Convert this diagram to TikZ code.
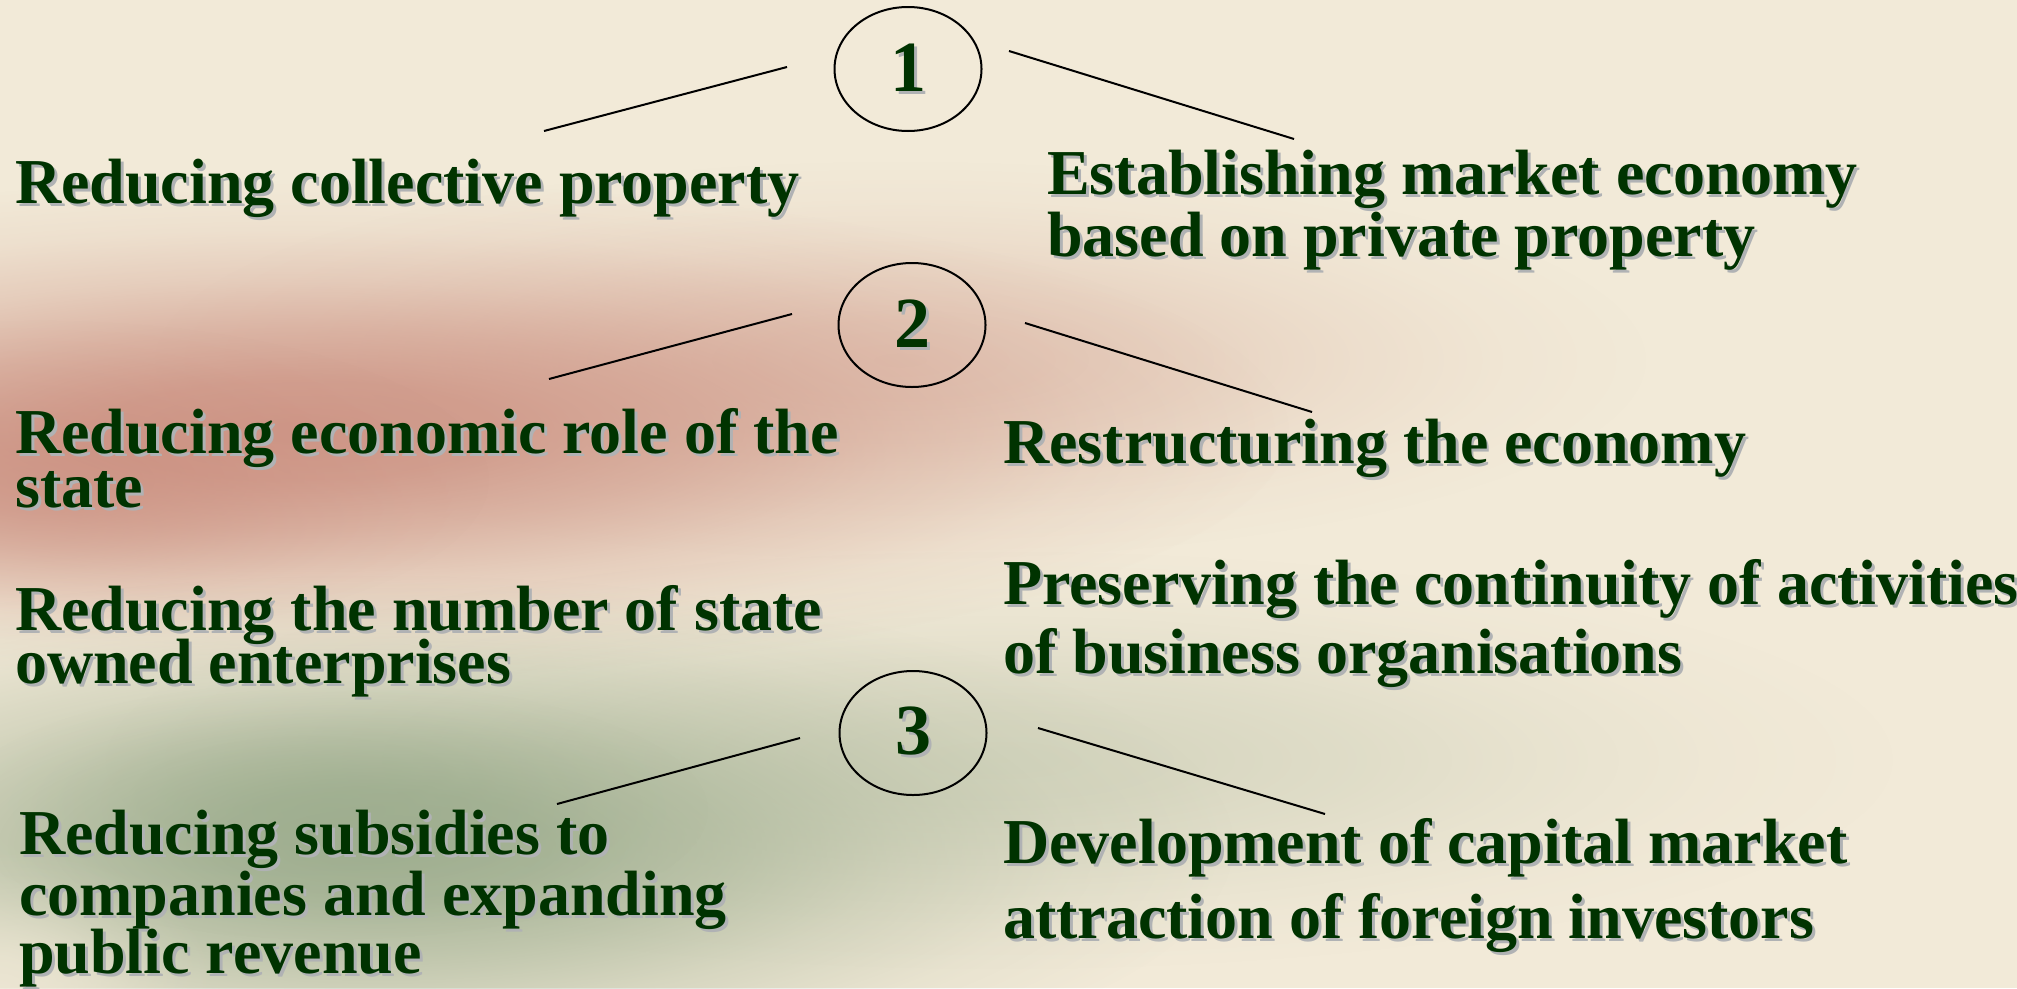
\documentclass[tikz,border=0pt]{standalone}
\usepackage{fontspec}
\setmainfont{Liberation Serif}
\usetikzlibrary{shapes.geometric,fadings}

\definecolor{paper}{HTML}{F2EAD8}
\definecolor{ink}{HTML}{003300}
\definecolor{txtshadow}{HTML}{B0B2B4}
\definecolor{rose}{HTML}{C98A7B}
\definecolor{sage}{HTML}{96A888}

% soft, bell-shaped radial fade (white = opaque, black = clear)
\pgfdeclareradialshading{blobshade}{\pgfpointorigin}{%
  color(0bp)=(white); color(5bp)=(white!90!black); color(10bp)=(white!65!black);
  color(15bp)=(white!35!black); color(20bp)=(white!12!black); color(25bp)=(black);
  color(50bp)=(black)}
\pgfdeclarefading{softblob}{\pgfuseshading{blobshade}}

% text with a soft grey drop shadow
\newcommand{\sh}[1]{\makebox[0pt][l]{\hspace{3pt}\raisebox{-3pt}{\color{txtshadow}#1}}#1}

\tikzset{
  label text/.style={anchor=base west, inner sep=0pt, text=ink,
    font=\fontsize{64}{64}\selectfont\bfseries},
  numbered/.style={draw=black, line width=2pt, ellipse, inner sep=0pt,
    minimum width=147pt, minimum height=124pt, text=ink,
    font=\fontsize{72}{72}\selectfont\bfseries},
  link/.style={draw=black, line width=2pt},
  blob/.style={path fading=softblob, fit fading=true}
}

\begin{document}
\begin{tikzpicture}[x=1pt, y=-1pt]
\useasboundingbox (0,0) rectangle (2017,988);

% background wash
\begin{scope}
  \clip (0,0) rectangle (2017,988);
  \fill[paper] (0,0) rectangle (2017,988);
  \fill[rose, opacity=0.35, blob] (900,360) ellipse [x radius=750, y radius=200];
  \fill[rose, opacity=0.85, blob] (300,430) ellipse [x radius=1000, y radius=250];
  \fill[rose, opacity=0.6, blob] (40,480) ellipse [x radius=450, y radius=160];
  \fill[sage, opacity=0.3, blob] (1000,760) ellipse [x radius=900, y radius=210];
  \fill[sage, opacity=0.85, blob] (380,845) ellipse [x radius=860, y radius=270];
  \fill[sage, opacity=0.45, blob] (330,810) ellipse [x radius=380, y radius=130];
  \fill[paper, opacity=0.7, blob] (0,988) ellipse [x radius=220, y radius=140];
\end{scope}

% numbered hubs
\node[numbered] (c1) at (908,69)  {\sh{1}};
\node[numbered] (c2) at (912,325) {\sh{2}};
\node[numbered] (c3) at (913,733) {\sh{3}};

% connector ends
\coordinate (a1) at (544,131);  \coordinate (b1) at (787,67);
\coordinate (a2) at (1009,51);  \coordinate (b2) at (1294,139);
\coordinate (a3) at (549,379);  \coordinate (b3) at (792,314);
\coordinate (a4) at (1025,323); \coordinate (b4) at (1312,412);
\coordinate (a5) at (557,804);  \coordinate (b5) at (800,738);
\coordinate (a6) at (1038,728); \coordinate (b6) at (1325,814);

\draw[link] (a1) -- (b1);
\draw[link] (a2) -- (b2);
\draw[link] (a3) -- (b3);
\draw[link] (a4) -- (b4);
\draw[link] (a5) -- (b5);
\draw[link] (a6) -- (b6);

% left column
\node[label text] (l1)  at (15,203) {\sh{Reducing collective property}};
\node[label text] (l2a) at (15,453) {\sh{Reducing economic role of the}};
\node[label text] (l2b) at (15,507) {\sh{state}};
\node[label text] (l3a) at (15,630) {\sh{Reducing the number of state}};
\node[label text] (l3b) at (15,683) {\sh{owned enterprises}};
\node[label text] (l4a) at (19,854) {\sh{Reducing subsidies to}};
\node[label text] (l4b) at (19,915) {\sh{companies and expanding}};
\node[label text] (l4c) at (19,973) {\sh{public revenue}};

% right column
\node[label text] (r1a) at (1047,194) {\sh{Establishing market economy}};
\node[label text] (r1b) at (1047,256) {\sh{based on private property}};
\node[label text] (r2)  at (1003,463) {\sh{Restructuring the economy}};
\node[label text] (r3a) at (1003,604) {\sh{Preserving the continuity of activities}};
\node[label text] (r3b) at (1003,673) {\sh{of business organisations}};
\node[label text] (r4a) at (1003,863) {\sh{Development of capital market}};
\node[label text] (r4b) at (1003,938) {\sh{attraction of foreign investors}};
\end{tikzpicture}
\end{document}
